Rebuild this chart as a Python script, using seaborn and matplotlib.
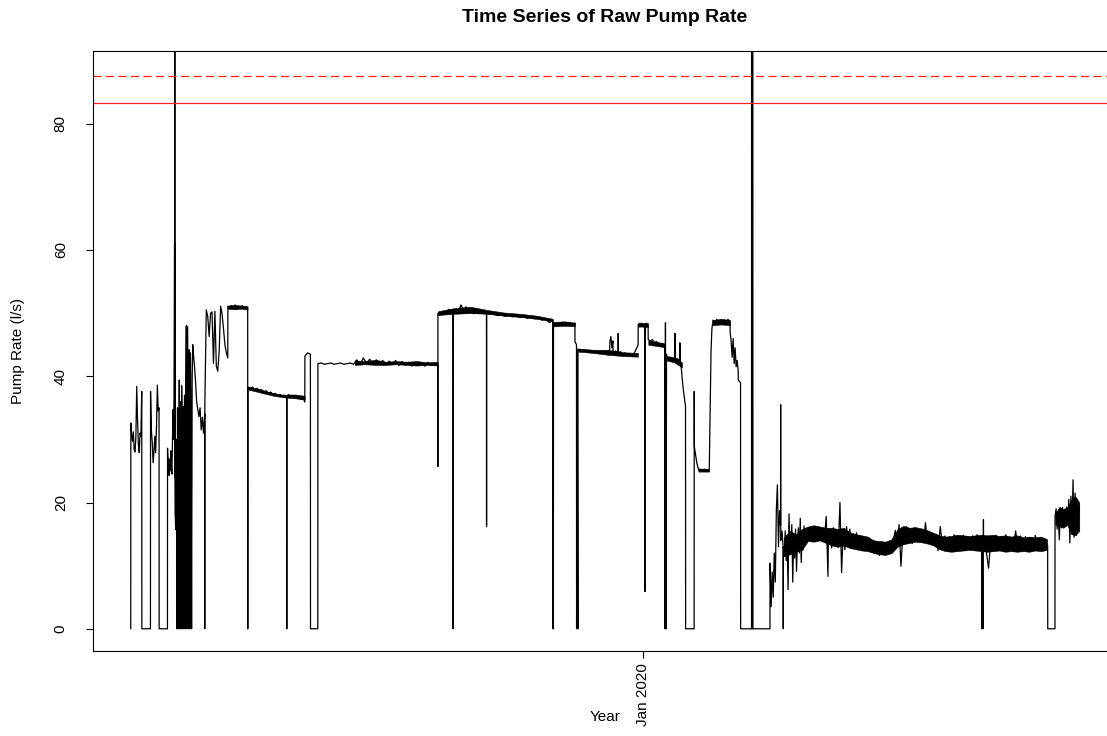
import numpy as np
import pandas as pd
import matplotlib
matplotlib.use("Agg")
import matplotlib.pyplot as plt
import seaborn as sns

# ---------------- data ----------------
start_date = "2019-04-20"
title = "Time Series of Raw Pump Rate"
y_label = "Pump Rate (l/s)"
x_label = "Year"
tick_dates = ["2020-01-01"]
tick_labels = ["Jan 2020"]
y_ticks = [0, 20, 40, 60, 80]
y_range = [0, 88]
limit_dashed = 87.6
limit_solid = 83.3

# Raw readings: (start day, end day, readings spread evenly over that span)
early_2019 = [
    (0.0, 0.0, [0]),
    (0.05, 5.5, [32.6, 30.8, 29.7, 31.2, 28.3, 28.0, 30.4, 38.4, 33.0, 29.2, 27.9, 31.0, 30.5, 37.6]),
    (5.55, 9.85, [0, 0]),
    (9.9, 14.15, [37.6, 31.4, 29.5, 26.3, 28.0, 30.5, 27.9, 32.0, 38.6, 34.5, 35.0]),
    (14.2, 18.35, [0, 0]),
    (18.4, 21.9, [28.6, 25.5, 27.0, 24.3, 26.8, 25.0, 28.2, 26.0, 24.5, 29.0, 34.7, 30.0, 36.5, 61.0]),
    (21.95, 22.1, [24.0, 420.0, 24.0]),
    (22.2, 31.0, [18, 15.7, 30, 0, 35, 20, 0, 39.4, 0, 36, 0, 38.5, 34, 0, 35.2, 0, 37, 0, 36, 48, 0, 47.9, 38, 0, 44.2, 0, 43.7, 34, 0, 40, 45]),
    (31.2, 36.95, [44, 42, 39.4, 36, 34.8, 33.6, 35, 31.5, 33.5, 31.0, 34]),
    (37.0, 37.0, [0]),
    (37.05, 48.5, [36, 50.5, 49.5, 46.3, 50.0, 50.2, 42.0, 50.3, 41.6, 40.8, 44, 51.1, 49.9, 47.6, 45, 43.7, 42.9]),
    (48.55, 58.45, [51.1, 50.7, 51.2, 50.8, 51.3, 50.7, 51.1, 50.8, 51.2, 50.7, 51.0, 50.6]),
    (58.5, 58.5, [0]),
    (58.55, 77.95, [38.2, 38.0, 38.3, 37.8, 38.1, 37.7, 37.9, 37.5, 37.7, 37.3, 37.5, 37.1, 37.3, 36.9, 37.1, 36.8, 37.0, 36.7]),
    (78.0, 78.0, [0]),
    (78.05, 87.0, [36.9, 37.1, 36.8, 37.0, 36.7, 36.9, 36.6, 36.8, 36.3, 36.7, 35.9]),
    (87.05, 89.8, [43.2, 43.7, 43.5]),
    (89.85, 93.5, [0, 0]),
]

mid_2019 = [
    (93.55, 153.45, [42.0, 42.1, 41.9, 42.0, 42.1, 41.9, 42.0, 42.1, 41.9, 42.0, 42.1, 41.9, 42.6, 41.8, 42.9, 42.1, 42.7, 41.9, 42.6, 42.0, 42.5, 41.8, 42.4, 41.9, 42.5, 41.7, 42.3, 41.8, 42.2, 41.6, 42.2, 41.7, 42.1, 41.6, 42.2, 41.7, 42.0, 41.8]),
    (153.5, 153.5, [25.7]),
    (153.55, 161.1, [50.0, 49.7, 50.1, 49.8, 50.2, 50.6, 49.9, 50.1]),
    (161.15, 161.15, [0]),
    (161.2, 177.8, [50.0, 50.4, 50.1, 51.3, 50.5, 51.0, 50.2, 50.4, 49.9, 50.3, 50.0, 50.2, 49.9, 50.1]),
    (177.85, 177.85, [16.2]),
    (177.9, 211.0, [50.0, 49.8, 49.9, 49.6, 49.8, 49.5, 49.7, 49.4, 49.6, 49.3, 49.5, 49.2, 49.4, 49.1, 49.3, 48.9, 49.1, 48.5, 48.8]),
    (211.05, 211.25, [0, 48.5, 0]),
    (211.3, 222.0, [48.0, 48.4, 48.1, 48.3, 48.0, 48.5, 48.2, 48.4]),
    (222.05, 222.8, [45.5, 45.0]),
    (222.85, 223.5, [0, 44.0, 0]),
]

late_2019 = [
    (223.55, 239.4, [44.3, 44.0, 44.2, 43.9, 44.1, 43.8, 44.0, 43.7, 43.9, 43.6, 43.8, 44.2]),
    (239.5, 241.0, [45.5, 46.3, 44.5, 45.6]),
    (241.1, 243.6, [43.8, 44.0, 43.6]),
    (243.65, 243.65, [46.8]),
    (243.7, 253.6, [43.6, 43.9, 43.5, 43.7, 43.4, 43.6, 43.3, 43.5, 44.2, 45.0]),
    (253.65, 256.95, [48.2, 47.8, 48.4, 48.0, 48.3]),
    (257.0, 257.0, [5.9]),
    (257.05, 258.6, [48.1, 48.4, 47.9]),
    (258.65, 266.9, [45.8, 45.6, 45.8, 45.3, 45.5, 45.1, 44.9, 45.2, 44.8]),
    (267.0, 267.8, [0, 48.5, 0, 43.5]),
    (267.85, 271.9, [43.1, 42.8, 43.0, 42.7, 42.9]),
    (272.0, 272.0, [46.8]),
    (272.1, 274.4, [42.6, 42.8, 42.4]),
    (274.5, 274.5, [45.3]),
    (274.6, 277.3, [42.2, 41.5, 39.5, 37.8, 36.5, 35.2]),
    (277.35, 281.6, [0, 0]),
    (281.65, 281.65, [37.6]),
    (281.7, 283.6, [28.9, 27.5, 26.2, 25.5]),
    (283.7, 289.1, [25.3, 24.9, 25.2, 25.0, 25.3, 24.9, 25.2, 25.0]),
    (289.2, 290.9, [26.0, 35.0, 44.0, 47.5, 48.5]),
    (291.0, 299.5, [48.9, 48.5, 49.0, 48.6, 48.9, 48.5, 48.8, 48.6, 49.0, 48.7]),
    (299.6, 303.6, [47.0, 45.5, 43.0, 46.0, 42.0, 44.5, 41.5, 42.5, 41.0]),
    (303.65, 304.8, [39.4, 39.0]),
    (304.85, 310.3, [0, 0]),
    (310.35, 310.95, [420, 0, 420, 0, 420, 0]),
    (311.0, 319.5, [0, 0]),
]

year_2020 = [
    (319.55, 324.8, [10.4, 3.5, 9.0, 5.0, 12.0, 7.4, 18.9, 22.8, 13.0, 18.7, 16.4]),
    (324.85, 324.85, [35.5]),
    (324.9, 326.1, [14.0, 15.5, 13.0]),
    (326.15, 326.15, [0]),
    (326.2, 337.0, [13.0, 11.5, 15.5, 10.8, 14.2, 6.2, 18.2, 13.5, 12.0, 16.5, 7.4, 14.8, 11.2, 15.8, 9.1, 13.8, 16.0, 12.0, 17.5, 10.5, 15.0, 12.5, 16.3, 14.0]),
    (337.2, 348.5, [15.2, 14.3, 16.0, 14.6, 15.8, 14.4, 16.1, 14.8, 15.5, 14.2, 15.9, 14.5, 17.8, 8.3]),
    (348.7, 371.0, [14.1, 15.5, 12.8, 16.0, 13.2, 15.4, 12.9, 20.0, 8.9, 15.6, 12.5, 16.2, 13.0, 15.8, 12.7, 14.9, 13.3, 15.2, 12.9, 14.7, 13.2, 14.4, 12.6, 14.2, 12.4, 13.9, 12.3, 13.8]),
    (371.2, 381.0, [12.8, 13.9, 11.9, 13.6, 11.6, 13.8, 12.0, 13.5, 11.8, 13.7, 12.2, 13.4, 12.6, 14.2]),
    (381.2, 401.0, [14.0, 15.6, 13.8, 16.5, 9.9, 15.0, 13.5, 16.2, 14.2, 15.8, 13.5, 16.0, 14.2, 15.7, 14.0, 15.5, 13.8, 16.8, 13.9, 15.1, 13.6, 14.8]),
    (401.2, 425.3, [13.6, 14.8, 12.4, 16.2, 12.8, 14.7, 12.5, 14.6, 12.6, 14.9, 12.3, 14.5, 12.7, 14.8, 12.4, 14.6, 12.8, 14.7, 12.5, 14.9, 12.6, 14.4]),
    (425.4, 426.2, [0, 13.5, 0, 17.3]),
    (426.3, 458.3, [13.5, 12.5, 9.6, 14.5, 12.3, 14.8, 12.6, 14.6, 12.4, 14.9, 12.7, 14.5, 12.3, 15.5, 12.6, 14.7, 12.4, 14.6, 12.8, 14.4, 12.5, 14.8, 12.6, 14.3, 12.9, 14.0, 13.2]),
    (458.35, 461.95, [0, 0]),
    (462.0, 474.15, [17.8, 19.0, 15.8, 18.5, 14.1, 18.8, 16.0, 19.2, 16.5, 18.6, 16.2, 19.3, 17.0, 20.5, 13.6, 21.0, 15.0, 23.6, 14.5, 21.5, 14.8, 20.5, 15.5, 19.5]),
]

# Spread (min / max) of the dense readings: (start day, end day, lows, highs)
spread_2019 = [
    (48.6, 58.4, [50.7, 50.6, 50.7, 50.6], [51.2, 51.3, 51.2, 51.1]),
    (58.6, 77.9, [37.9, 37.4, 36.9, 36.6], [38.4, 37.9, 37.3, 37.0]),
    (78.1, 86.9, [36.6, 36.5, 36.3], [37.1, 37.1, 36.9]),
    (112.0, 153.4, [41.8, 41.9, 41.8, 41.8, 41.9, 41.8, 41.7, 41.8, 41.7],
     [42.5, 42.4, 42.6, 42.3, 42.4, 42.3, 42.4, 42.2, 42.3]),
    (153.6, 210.9, [49.7, 49.9, 50.0, 49.9, 49.6, 49.4, 49.1, 48.7],
     [50.3, 50.8, 51.0, 50.5, 50.1, 49.9, 49.6, 49.1]),
    (211.3, 222.0, [47.9, 48.0, 47.9], [48.6, 48.7, 48.5]),
    (223.6, 253.5, [43.9, 43.7, 43.4, 43.2, 43.1], [44.4, 44.2, 44.2, 43.8, 43.7]),
    (253.7, 258.6, [47.9, 47.8], [48.5, 48.4]),
    (258.7, 266.9, [45.0, 44.6], [45.7, 45.2]),
    (267.9, 275.5, [42.5, 42.2, 41.4], [43.2, 43.0, 42.2]),
    (283.7, 289.1, [24.9, 24.9], [25.4, 25.3]),
    (290.9, 299.5, [48.1, 48.2, 48.1], [48.9, 49.1, 48.9]),
]

spread_2020 = [
    (326.5, 458.0,
     [11.5, 11.8, 12.2, 12.5, 13.9, 13.8, 14.0, 13.6, 13.2, 13.0, 13.2, 12.8, 12.6, 12.4, 12.3,
      12.0, 11.8, 11.7, 12.0, 13.0, 13.4, 13.6, 13.8, 13.7, 13.5, 13.2, 12.6, 12.3, 12.2, 12.3,
      12.4, 12.5, 12.4, 12.3, 12.2, 12.3, 12.4, 12.2, 12.3, 12.2, 12.3, 12.2, 12.4, 12.3, 12.5],
     [14.5, 15.5, 15.0, 15.8, 16.2, 16.4, 16.2, 16.0, 16.0, 15.8, 16.0, 15.3, 15.0, 14.8, 14.6,
      14.0, 13.9, 13.8, 14.2, 15.8, 16.3, 16.0, 16.1, 15.9, 15.6, 15.2, 14.8, 14.6, 14.7, 14.9,
      14.8, 14.7, 14.8, 14.9, 14.8, 14.9, 14.7, 14.8, 14.6, 14.8, 14.5, 14.6, 14.5, 14.6, 14.2]),
    (462.1, 474.1, [16.5, 16.3, 16.0, 16.5, 15.0, 14.8, 15.5], [18.2, 19.3, 19.0, 19.2, 20.5, 21.0, 20.0]),
]


def expand(segments):
    days, vals = [], []
    for t0, t1, v in segments:
        n = len(v)
        ts = np.linspace(t0, t1, n) if n > 1 else np.array([t0])
        days.extend(ts.tolist())
        vals.extend(v)
    return days, vals


t0 = pd.Timestamp(start_date)
days, rates = expand(early_2019 + mid_2019 + late_2019 + year_2020)
df = pd.DataFrame({"date": t0 + pd.to_timedelta(days, unit="D"), "rate": rates})

# ---------------- plot ----------------
sns.set_style("ticks")
plt.rcParams["font.family"] = ["Liberation Sans", "DejaVu Sans"]

W, H = 1107, 736
fig = plt.figure(figsize=(W / 100, H / 100), dpi=100)
fig.patch.set_facecolor("white")
ax = fig.add_axes([92.8 / W, 85 / H, 1024.5 / W, 600 / H])
ax.set_facecolor("white")

for s0, s1, lows, highs in spread_2019 + spread_2020:
    ts = t0 + pd.to_timedelta(np.linspace(s0, s1, len(lows)), unit="D")
    ax.fill_between(ts, lows, highs, color="black", linewidth=0.4)

sns.lineplot(data=df, x="date", y="rate", sort=False, estimator=None,
             color="black", linewidth=0.9, ax=ax)

ax.axhline(limit_dashed, color="#FF2020", linewidth=0.9, linestyle=(0, (6.5, 3.5)))
ax.axhline(limit_solid, color="#FF2020", linewidth=0.9)

dmin, dmax = min(days), max(days)
pad = 0.04 * (dmax - dmin)
ax.set_xlim(t0 + pd.Timedelta(days=dmin - pad), t0 + pd.Timedelta(days=dmax + pad))
ypad = 0.04 * (y_range[1] - y_range[0])
ax.set_ylim(y_range[0] - ypad, y_range[1] + ypad)

ax.set_xticks(pd.to_datetime(tick_dates))
ax.set_xticklabels(tick_labels, rotation=90, fontsize=11)
ax.set_yticks(y_ticks)
ax.set_yticklabels([str(v) for v in y_ticks], rotation=90, va="center", fontsize=11)
ax.tick_params(axis="both", length=5, width=0.8, color="black", labelcolor="black")
ax.tick_params(axis="y", pad=13)
ax.tick_params(axis="x", pad=4)

for s in ax.spines.values():
    s.set_visible(True)
    s.set_color("black")
    s.set_linewidth(0.8)

ax.set_xlabel(x_label, fontsize=11, color="black")
ax.set_ylabel(y_label, fontsize=11, color="black")
ax.xaxis.set_label_coords(0.5, -0.11)
ax.xaxis.label.set_va("center")
ax.yaxis.set_label_coords(-0.073, 0.5)
ax.yaxis.label.set_va("center")

ax.text(0.5, 1 + 34 / 600, title, transform=ax.transAxes, ha="center", va="center",
        fontsize=14, fontweight="bold", color="black")

fig.savefig("out.png", dpi=100, facecolor="white")
